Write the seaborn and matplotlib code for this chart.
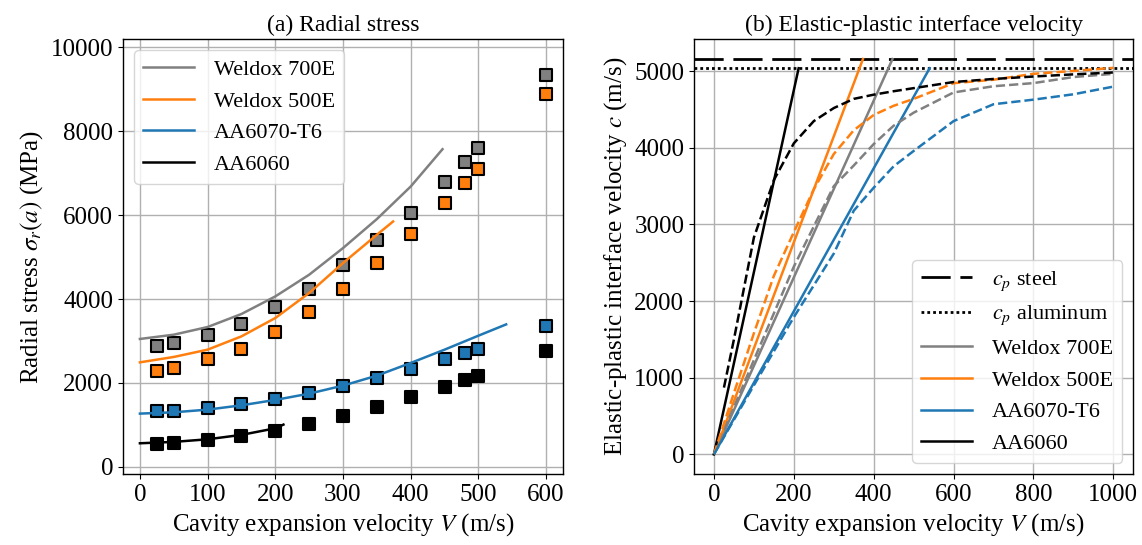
import matplotlib
matplotlib.use("Agg")
import matplotlib.pyplot as plt
import seaborn as sns

# ---------------- data ----------------
# (a) radial stress: simulation points
V_exp = [25, 50, 100, 150, 200, 250, 300, 350, 400, 450, 480, 500, 600]
sig_w700_pts = [2890, 2950, 3150, 3410, 3800, 4250, 4810, 5395, 6060, 6800, 7270, 7590, 9335]
sig_w500_pts = [2295, 2365, 2560, 2815, 3220, 3690, 4240, 4855, 5540, 6285, 6760, 7095, 8880]
sig_aa6070_pts = [1325, 1340, 1405, 1505, 1620, 1750, 1930, 2125, 2335, 2560, 2705, 2810, 3365]
sig_aa6060_pts = [548, 571, 633, 729, 864, 1031, 1214, 1419, 1657, 1912, 2062, 2167, 2769]

# (a) radial stress: analytical curves
V_an_w700 = [0, 50, 100, 150, 200, 250, 300, 350, 400, 447]
sig_an_w700 = [3048, 3150, 3333, 3643, 4062, 4579, 5214, 5905, 6681, 7571]
V_an_w500 = [0, 50, 100, 150, 200, 250, 300, 350, 374]
sig_an_w500 = [2491, 2619, 2793, 3110, 3547, 4143, 4857, 5531, 5848]
V_an_aa6070 = [0, 50, 100, 150, 200, 250, 300, 350, 400, 450, 500, 541]
sig_an_aa6070 = [1269, 1300, 1364, 1467, 1595, 1745, 1936, 2174, 2476, 2793, 3126, 3395]
V_an_aa6060 = [0, 50, 100, 150, 200, 212]
sig_an_aa6060 = [562, 595, 657, 762, 919, 1007]

# (b) elastic-plastic interface velocity
cp_steel = 5160
cp_aluminum = 5040
V_lin_w700 = [0, 447]
c_lin_w700 = [0, cp_steel]
V_lin_w500 = [0, 373]
c_lin_w500 = [0, cp_steel]
V_lin_aa6070 = [0, 540]
c_lin_aa6070 = [0, cp_aluminum]
V_lin_aa6060 = [0, 212]
c_lin_aa6060 = [0, cp_aluminum]

V_num_aa6060 = [25, 50, 100, 150, 200, 250, 300, 350, 400, 450, 500, 600, 700, 800, 900, 1000]
c_num_aa6060 = [870, 1500, 2830, 3580, 4060, 4350, 4520, 4640, 4695, 4740, 4780, 4860, 4900, 4932, 4960, 4985]
V_num_w500 = [0, 50, 100, 150, 200, 250, 300, 350, 400, 450, 500, 600, 700, 800, 900, 1000]
c_num_w500 = [0, 800, 1580, 2330, 2900, 3460, 3920, 4230, 4430, 4550, 4640, 4845, 4890, 4967, 5005, 5045]
V_num_w700 = [0, 100, 200, 300, 350, 400, 450, 500, 600, 700, 800, 900, 1000]
c_num_w700 = [0, 1230, 2450, 3500, 3770, 4050, 4290, 4460, 4724, 4805, 4846, 4925, 4967]
V_num_aa6070 = [0, 100, 200, 300, 350, 400, 450, 500, 600, 700, 800, 900, 1000]
c_num_aa6070 = [0, 900, 1790, 2620, 3180, 3480, 3760, 3960, 4350, 4570, 4630, 4700, 4800]

labels = ["Weldox 700E", "Weldox 500E", "AA6070-T6", "AA6060"]
colors = ["#808080", "#ff7f0e", "#1f77b4", "#000000"]

# ---------------- style ----------------
plt.rcParams["font.family"] = ["Liberation Serif", "DejaVu Serif"]
plt.rcParams["mathtext.fontset"] = "stix"
plt.rcParams["axes.linewidth"] = 1.0
plt.rcParams["grid.color"] = "#b0b0b0"
plt.rcParams["grid.linewidth"] = 1.0

TICK = 18
LAB = 18
TIT = 17
LEG = 16

fig = plt.figure(figsize=(11.42, 5.45), dpi=100)
ax1 = fig.add_axes([0.1077, 0.1303, 0.3853, 0.7976])
ax2 = fig.add_axes([0.6077, 0.1303, 0.3847, 0.7976])

# ---------------- (a) ----------------
pts = [sig_w700_pts, sig_w500_pts, sig_aa6070_pts, sig_aa6060_pts]
an = [(V_an_w700, sig_an_w700), (V_an_w500, sig_an_w500),
      (V_an_aa6070, sig_an_aa6070), (V_an_aa6060, sig_an_aa6060)]
for p, col in zip(pts, colors):
    sns.scatterplot(x=V_exp, y=p, marker="s", s=85, color=col, edgecolor="black",
                    linewidth=1.5, ax=ax1, zorder=2, legend=False)
for (vx, sy), col, lab in zip(an, colors, labels):
    sns.lineplot(x=vx, y=sy, color=col, lw=1.8, ax=ax1, label=lab,
                 estimator=None, sort=False, zorder=3)

ax1.set_xlim(-25, 625)
ax1.set_ylim(-170, 10190)
ax1.set_xticks([0, 100, 200, 300, 400, 500, 600])
ax1.set_yticks([0, 2000, 4000, 6000, 8000, 10000])
ax1.grid(True)
ax1.set_axisbelow(True)
ax1.set_title("(a) Radial stress", fontsize=TIT)
ax1.set_xlabel("Cavity expansion velocity $V$ (m/s)", fontsize=LAB)
ax1.set_ylabel(r"Radial stress $\sigma_r(a)$ (MPa)", fontsize=LAB)
ax1.tick_params(labelsize=TICK)
ax1.legend(loc="upper left", fontsize=LEG, handlelength=2.3, handletextpad=0.9)

# ---------------- (b) ----------------
ax2.axhline(cp_steel, color="black", lw=2.0, linestyle=(0, (10.5, 3.5)), label="$c_p$ steel")
ax2.axhline(cp_aluminum, color="black", lw=2.0, linestyle=(0, (1, 1.1)), label="$c_p$ aluminum")
lin = [(V_lin_w700, c_lin_w700), (V_lin_w500, c_lin_w500),
       (V_lin_aa6070, c_lin_aa6070), (V_lin_aa6060, c_lin_aa6060)]
for (vx, cy), col, lab in zip(lin, colors, labels):
    sns.lineplot(x=vx, y=cy, color=col, lw=1.8, ax=ax2, label=lab,
                 estimator=None, sort=False)
num = [(V_num_w700, c_num_w700), (V_num_w500, c_num_w500),
       (V_num_aa6070, c_num_aa6070), (V_num_aa6060, c_num_aa6060)]
for (vx, cy), col in zip(num, colors):
    sns.lineplot(x=vx, y=cy, color=col, lw=1.8, linestyle="--", ax=ax2,
                 estimator=None, sort=False)

ax2.set_xticks([0, 200, 400, 600, 800, 1000])
ax2.set_yticks([0, 1000, 2000, 3000, 4000, 5000])
ax2.grid(True)
ax2.set_axisbelow(True)
ax2.set_title("(b) Elastic-plastic interface velocity", fontsize=TIT)
ax2.set_xlabel("Cavity expansion velocity $V$ (m/s)", fontsize=LAB)
ax2.set_ylabel("Elastic-plastic interface velocity $c$ (m/s)", fontsize=LAB)
ax2.tick_params(labelsize=TICK)
ax2.legend(loc="lower right", fontsize=LEG, handlelength=2.3, handletextpad=0.9)

fig.savefig("out.png", dpi=100)
